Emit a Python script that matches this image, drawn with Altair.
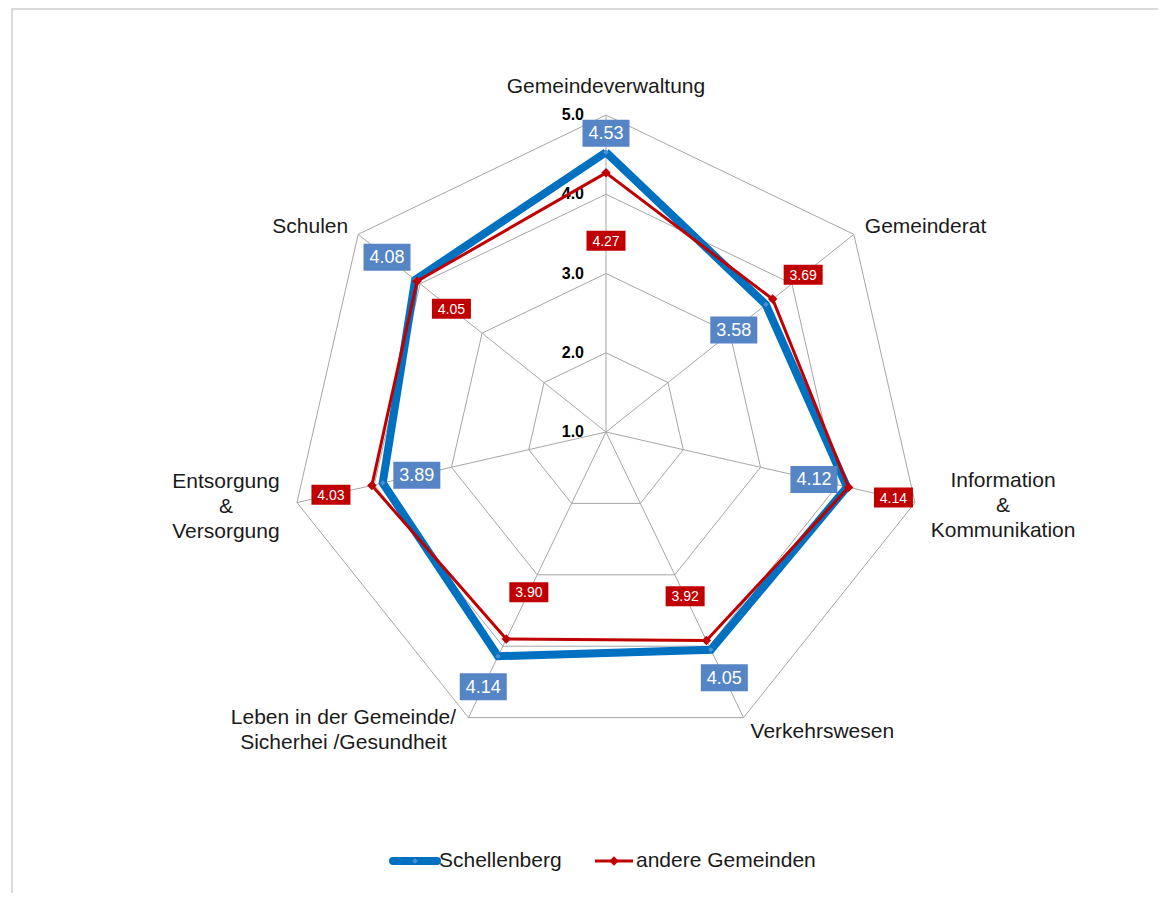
import math
import numpy as np
import pandas as pd
import altair as alt

# ---------------- data ----------------
categories = [
    "Gemeindeverwaltung",
    "Gemeinderat",
    "Information\n&\nKommunikation",
    "Verkehrswesen",
    "Leben in der Gemeinde/\nSicherhei /Gesundheit",
    "Entsorgung\n&\nVersorgung",
    "Schulen",
]
schellenberg = [4.53, 3.58, 4.12, 4.05, 4.14, 3.89, 4.08]
andere = [4.27, 3.69, 4.14, 3.92, 3.90, 4.03, 4.05]
series_names = ["Schellenberg", "andere Gemeinden"]
tick_values = [1.0, 2.0, 3.0, 4.0, 5.0]
tick_labels = ["1.0", "2.0", "3.0", "4.0", "5.0"]
r_min, r_max = 1.0, 5.0

# ---------------- layout / style ----------------
W, H = 1150, 885
CX, CY = 598, 424          # centre of radar in chart pixels
U = 79.25                  # pixels per value unit
FONT = "Liberation Sans"
BLUE, BLUE_BOX = "#0070c0", "#5585c5"
RED = "#c00000"
GRID = "#a6a6a6"
LH = 25                    # line height of multi-line category labels

# label offsets along the axis (pixels, + outward)
blue_label_off = [19, -41, -34, 31, 34, -35, 36]
red_label_off = [-68, 39, 46, -49, -52, 42, -44]
# category label offsets (block centre) from the outer vertex (pixels) and alignment
cat_off = [(0, -28), (11, -7), (88, 3), (7, 14), (-125, 13), (-71, 4), (-10, -7)]
cat_align = ["center", "left", "center", "left", "center", "center", "right"]

n = len(categories)
ang = [2 * math.pi * i / n for i in range(n)]


def pol(v, i, off_px=0.0):
    r = (v - r_min) + off_px / U
    return r * math.sin(ang[i]), r * math.cos(ang[i])


def page(px, py):
    return (px - 8 - CX) / U, (CY - (py - 8)) / U


xs = alt.Scale(domain=[-CX / U, (W - CX) / U], nice=False, zero=False)
ys = alt.Scale(domain=[-(H - CY) / U, CY / U], nice=False, zero=False)
X = lambda f: alt.X(f, type="quantitative", scale=xs, axis=None)
Y = lambda f: alt.Y(f, type="quantitative", scale=ys, axis=None)

# grid rings
rows = []
for v in tick_values[1:]:
    for k in range(n + 1):
        x, y = pol(v, k % n)
        rows.append({"ring": v, "k": k, "x": x, "y": y})
rings = alt.Chart(pd.DataFrame(rows)).mark_line(color=GRID, strokeWidth=1).encode(
    x=X("x"), y=Y("y"), detail="ring:N", order="k:Q")

# spokes
rows = []
for i in range(n):
    x, y = pol(r_max, i)
    rows.append({"x0": 0.0, "y0": 0.0, "x1": x, "y1": y})
spokes = alt.Chart(pd.DataFrame(rows)).mark_rule(color=GRID, strokeWidth=1).encode(
    x=X("x0"), y=Y("y0"), x2="x1", y2="y1")

# tick labels
tdf = pd.DataFrame({"x": [0.0] * len(tick_values),
                    "y": [v - r_min for v in tick_values],
                    "t": tick_labels})
ticks = alt.Chart(tdf).mark_text(align="right", baseline="middle", dx=-22,
                                 font=FONT, fontSize=16, fontWeight="bold",
                                 color="#000000").encode(x=X("x"), y=Y("y"), text="t:N")


def series_df(vals):
    rows = []
    for k in range(n + 1):
        i = k % n
        x, y = pol(vals[i], i)
        rows.append({"k": k, "x": x, "y": y, "v": vals[i]})
    return pd.DataFrame(rows)


blue_df = series_df(schellenberg)
red_df = series_df(andere)

blue_line = alt.Chart(blue_df).mark_line(color=BLUE, strokeWidth=8, strokeJoin="miter").encode(
    x=X("x"), y=Y("y"), order="k:Q")
blue_pts = alt.Chart(blue_df[blue_df.k < n]).mark_point(
    shape="diamond", filled=True, size=30, color="#4a90d6", opacity=1).encode(x=X("x"), y=Y("y"))
red_line = alt.Chart(red_df).mark_line(color=RED, strokeWidth=3, strokeJoin="miter").encode(
    x=X("x"), y=Y("y"), order="k:Q")
red_pts = alt.Chart(red_df[red_df.k < n]).mark_point(
    shape="diamond", filled=True, size=90, color=RED, opacity=1).encode(x=X("x"), y=Y("y"))


def label_layers(vals, offs, box_w, box_h, fill, fsize):
    rows = []
    for i in range(n):
        x, y = pol(vals[i], i, offs[i])
        rows.append({"x": x, "y": y, "t": f"{vals[i]:.2f}",
                     "xa": x - box_w / 2 / U, "xb": x + box_w / 2 / U,
                     "ya": y - box_h / 2 / U, "yb": y + box_h / 2 / U})
    d = pd.DataFrame(rows)
    box = alt.Chart(d).mark_rect(color=fill, opacity=1).encode(
        x=X("xa"), x2="xb", y=Y("ya"), y2="yb")
    txt = alt.Chart(d).mark_text(font=FONT, fontSize=fsize, color="white",
                                 align="center", baseline="middle", dy=1).encode(
        x=X("x"), y=Y("y"), text="t:N")
    return [box, txt]


blue_labels = label_layers(schellenberg, blue_label_off, 47, 27, BLUE_BOX, 18)
red_labels = label_layers(andere, red_label_off, 39, 20, RED, 14)

# category labels (y given for the first line: block centre minus half the extra lines)
rows = []
for i in range(n):
    x, y = pol(r_max, i)
    dx, dy = cat_off[i]
    nl = categories[i].count("\n")
    dy_first = dy - nl * LH / 2
    rows.append({"x": x + dx / U, "y": y - dy_first / U, "t": categories[i], "a": cat_align[i]})
cdf = pd.DataFrame(rows)
cat_layers = []
for a in ["left", "center", "right"]:
    cat_layers.append(alt.Chart(cdf[cdf.a == a]).mark_text(
        align=a, baseline="middle", font=FONT, fontSize=21, lineHeight=LH,
        lineBreak="\n", color="#1a1a1a").encode(x=X("x"), y=Y("y"), text="t:N"))

# legend (manual)
lx0, ly = page(393, 861)
lx1, _ = page(437, 861)
rx0, _ = page(595, 861)
rx1, _ = page(633, 861)
tx0, _ = page(439, 861)
tx1, _ = page(636, 861)
leg_lines = pd.DataFrame({"x": [lx0, rx0], "x2": [lx1, rx1], "y": [ly, ly],
                          "s": series_names})
leg_blue = alt.Chart(leg_lines.iloc[[0]]).mark_rule(color=BLUE, strokeWidth=8, strokeCap="round").encode(
    x=X("x"), x2="x2", y=Y("y"))
leg_red = alt.Chart(leg_lines.iloc[[1]]).mark_rule(color=RED, strokeWidth=3).encode(
    x=X("x"), x2="x2", y=Y("y"))
leg_pt = alt.Chart(pd.DataFrame({"x": [(lx0 + lx1) / 2, (rx0 + rx1) / 2], "y": [ly, ly],
                                 "c": [0, 1]})).mark_point(
    shape="diamond", filled=True, opacity=1).encode(
    x=X("x"), y=Y("y"),
    color=alt.Color("c:N", scale=alt.Scale(domain=[0, 1], range=["#4a90d6", RED]), legend=None),
    size=alt.Size("c:N", scale=alt.Scale(domain=[0, 1], range=[30, 90]), legend=None))
leg_txt = alt.Chart(pd.DataFrame({"x": [tx0, tx1], "y": [ly, ly], "t": series_names})).mark_text(
    align="left", baseline="middle", font=FONT, fontSize=21, color="#1a1a1a").encode(
    x=X("x"), y=Y("y"), text="t:N")

# outer frame
frame_top = alt.Chart(pd.DataFrame({"a": [0]})).mark_rule(color="#dadada", strokeWidth=2).encode(
    x=alt.value(3), x2=alt.value(W), y=alt.value(1))
frame_left = alt.Chart(pd.DataFrame({"a": [0]})).mark_rule(color="#dadada", strokeWidth=2).encode(
    x=alt.value(4), y=alt.value(0), y2=alt.value(H))

chart = alt.layer(
    frame_top, frame_left, rings, spokes, ticks,
    blue_line, blue_pts, red_line, red_pts,
    *blue_labels, *red_labels, *cat_layers,
    leg_blue, leg_red, leg_pt, leg_txt,
).properties(
    width=W, height=H, padding=0,
    autosize=alt.AutoSizeParams(type="none"),
    background="white",
).configure_view(stroke=None)

chart.save("out.html", embed_options={"renderer": "svg", "actions": False})
